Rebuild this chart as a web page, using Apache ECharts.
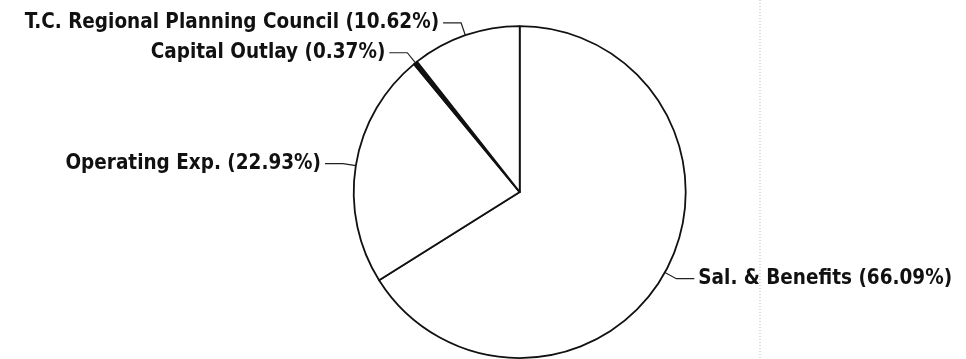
<!DOCTYPE html>
<html>
<head>
<meta charset="utf-8">
<script src="https://cdn.jsdelivr.net/npm/echarts@6/dist/echarts.min.js"></script>
<style>
  html, body { margin: 0; padding: 0; background: #fff; }
  #my-pie { width: 966px; height: 359px; }
</style>
</head>
<body>
<div id="my-pie"></div>
<script>
// budget shares, in the order they run clockwise from 12 o'clock
var categories = ["Sal. & Benefits", "Operating Exp.", "Capital Outlay", "T.C. Regional Planning Council"];
var percents = [66.09, 22.93, 0.37, 10.62];

var chartDom = echarts.init(document.getElementById("my-pie"));

var pieData = categories.map(function (name, i) {
  return { name: name, value: percents[i] };
});

chartDom.setOption({
  backgroundColor: "#fff",
  animation: false,
  // faint scan crease on the right side of the page
  graphic: [
    {
      type: "line",
      shape: { x1: 760, y1: 0, x2: 760, y2: 359 },
      style: { stroke: "#b8b8b8", lineWidth: 1, lineDash: [1, 2] },
    },
  ],
  series: [
    {
      name: "Budget",
      type: "pie",
      center: ["53.8%", "53.5%"],
      radius: 166,
      startAngle: 90,
      clockwise: true,
      avoidLabelOverlap: false,
      itemStyle: {
        color: function (p) {
          // the thin capital outlay wedge is filled solid black
          return p.dataIndex === 2 ? "#111" : "#fff";
        },
        borderColor: "#111",
        borderWidth: 1.8,
      },
      emphasis: { disabled: true },
      label: {
        show: true,
        position: "outer",
        formatter: function (p) {
          return p.name + " (" + p.value.toFixed(2) + "%)";
        },
        fontFamily: "'DejaVu Sans Condensed', 'DejaVu Sans'",
        fontWeight: "bold",
        fontSize: 20.5,
        color: "#111",
        distanceToLabelLine: 4,
      },
      labelLine: {
        show: true,
        length: 13,
        length2: 18,
        smooth: false,
        lineStyle: { color: "#222", width: 1.2 },
      },
      data: pieData,
    },
  ],
});
</script>
</body>
</html>
